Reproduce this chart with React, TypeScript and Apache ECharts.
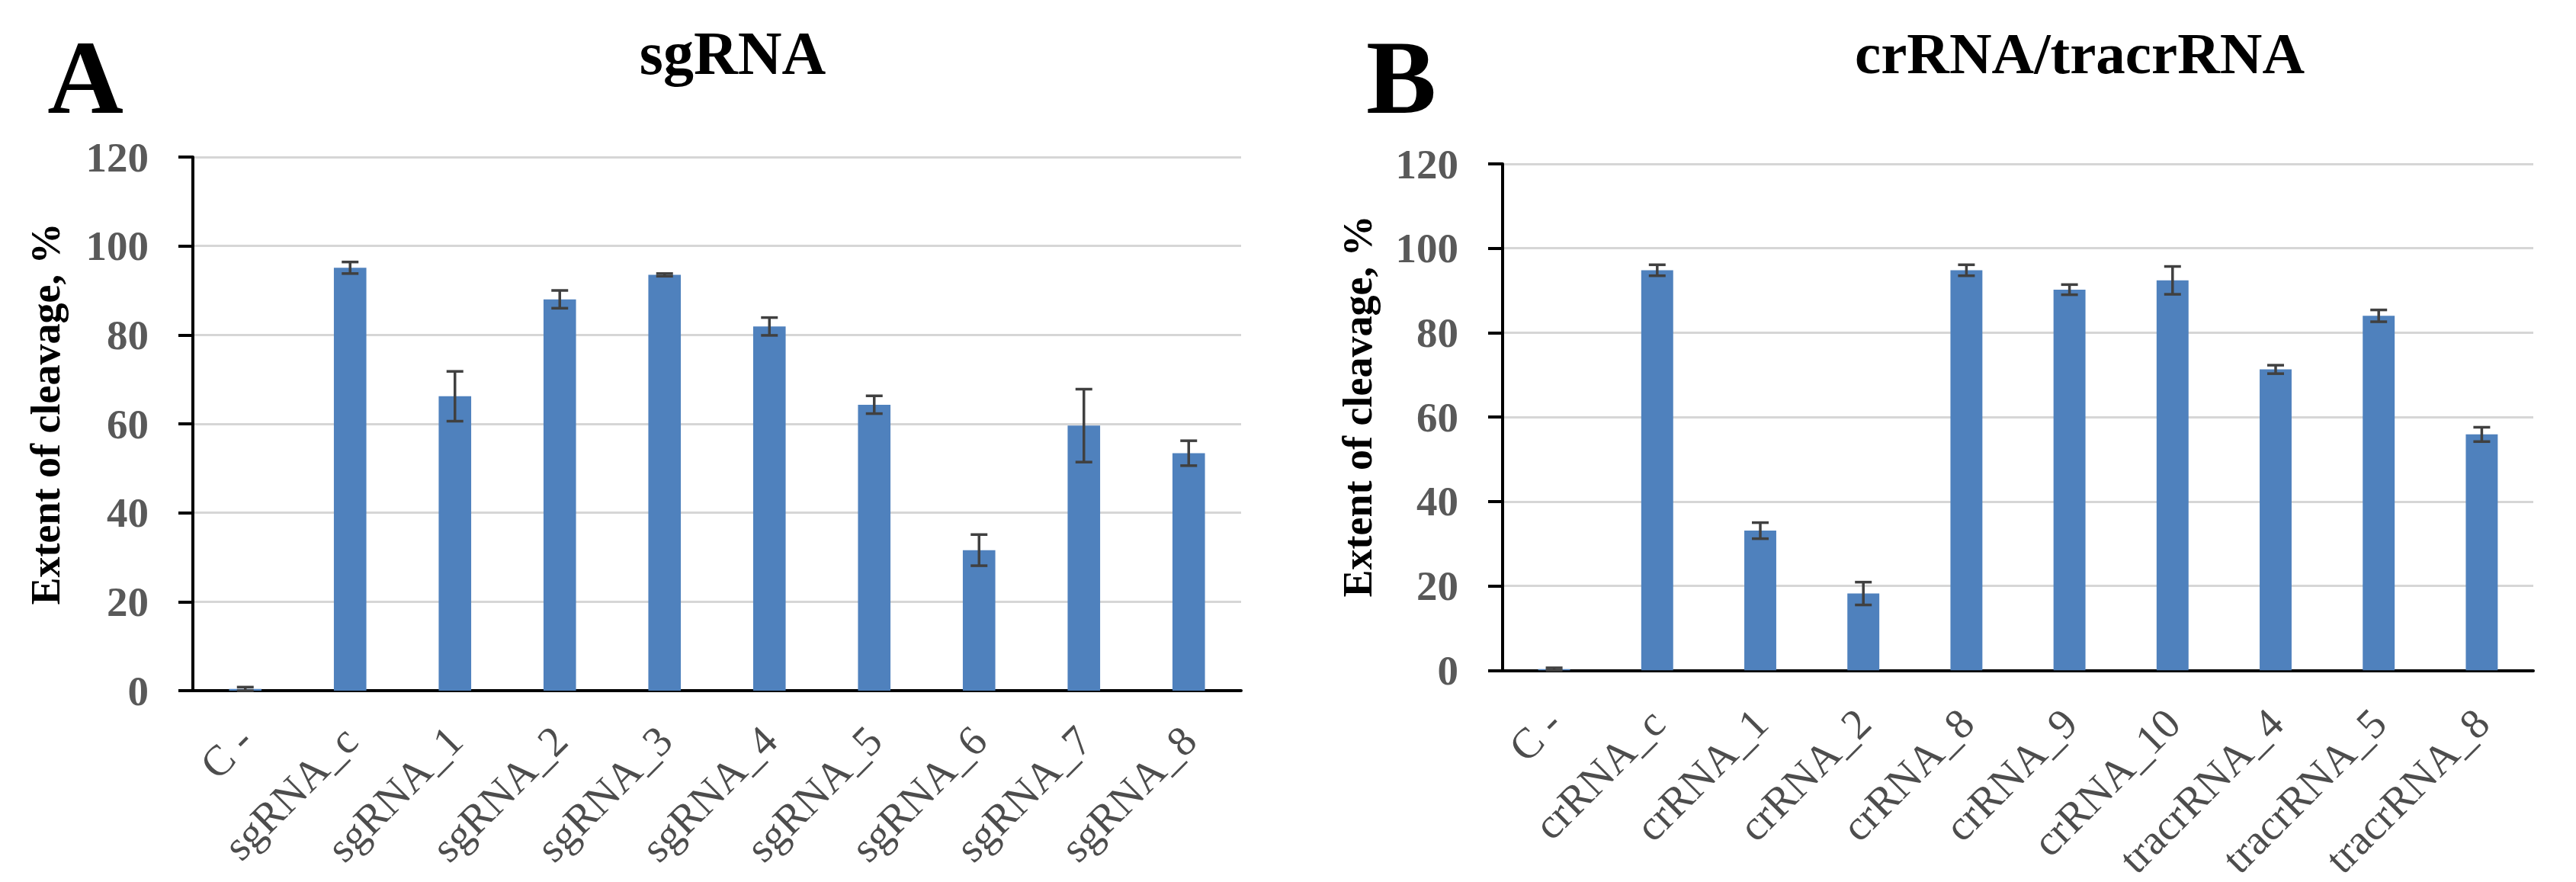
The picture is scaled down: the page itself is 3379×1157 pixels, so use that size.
import React, { useEffect, useRef } from "react";
import * as echarts from "echarts";

const catsA = ["C -", "sgRNA_c", "sgRNA_1", "sgRNA_2", "sgRNA_3", "sgRNA_4", "sgRNA_5", "sgRNA_6", "sgRNA_7", "sgRNA_8"];
const valsA = [0.4, 95.1, 66.2, 88.0, 93.5, 81.9, 64.3, 31.6, 59.6, 53.4];
const errA = [0.4, 1.3, 5.6, 2.0, 0.3, 2.0, 2.0, 3.5, 8.2, 2.8];

const catsB = ["C -", "crRNA_c", "crRNA_1", "crRNA_2", "crRNA_8", "crRNA_9", "crRNA_10", "tracrRNA_4", "tracrRNA_5", "tracrRNA_8"];
const valsB = [0.3, 94.8, 33.1, 18.2, 94.8, 90.2, 92.4, 71.3, 84.0, 55.9];
const errB = [0.3, 1.3, 1.9, 2.7, 1.3, 1.2, 3.3, 1.0, 1.4, 1.7];

const yTicks = [0, 20, 40, 60, 80, 100, 120];

const FONT = '"Liberation Serif", "DejaVu Serif", serif';
const GRAY = "#595959";

function errSeries(vals: number[], errs: number[], idx: number) {
  return {
    type: "custom",
    xAxisIndex: idx,
    yAxisIndex: idx,
    z: 5,
    encode: { x: 0, y: 1 },
    data: vals.map((v, i) => [i, v, errs[i]]),
    renderItem: (params: any, api: any) => {
      const x = api.value(0);
      const v = api.value(1);
      const e = api.value(2);
      const top = api.coord([x, v + e]);
      const bot = api.coord([x, Math.max(v - e, 0)]);
      const hw = 11;
      const style = { stroke: "#404040", lineWidth: 3.5 };
      return {
        type: "group",
        children: [
          { type: "line", shape: { x1: top[0], y1: top[1], x2: bot[0], y2: bot[1] }, style },
          { type: "line", shape: { x1: top[0] - hw, y1: top[1], x2: top[0] + hw, y2: top[1] }, style },
          { type: "line", shape: { x1: bot[0] - hw, y1: bot[1], x2: bot[0] + hw, y2: bot[1] }, style },
        ],
      };
    },
  };
}

function xAxisCfg(cats: string[], idx: number, margin: number) {
  return {
    type: "category",
    gridIndex: idx,
    data: cats,
    axisLine: { show: true, lineStyle: { color: "#000", width: 4 } },
    axisTick: { show: false },
    axisLabel: {
      interval: 0,
      rotate: 45,
      margin,
      color: "#4d4d4d",
      fontFamily: FONT,
      fontSize: 56,
    },
  };
}

function yAxisCfg(idx: number, margin: number) {
  return {
    type: "value",
    gridIndex: idx,
    min: yTicks[0],
    max: yTicks[yTicks.length - 1],
    interval: 20,
    axisLine: { show: true, lineStyle: { color: "#000", width: 4 } },
    axisTick: { show: true, length: 19, lineStyle: { color: "#000", width: 4 } },
    axisLabel: {
      margin,
      color: GRAY,
      fontFamily: FONT,
      fontSize: 55,
      fontWeight: "bold",
    },
    splitLine: { show: true, lineStyle: { color: "#d6d6d6", width: 3 } },
  };
}

function txt(text: string, x: number, y: number, size: number, rotation = 0) {
  return {
    type: "text",
    x,
    y,
    rotation,
    style: {
      text,
      x: 0,
      y: 0,
      fill: "#000",
      font: `bold ${size}px ${FONT}`,
      textAlign: "center",
      textVerticalAlign: "middle",
      align: "center",
      verticalAlign: "middle",
    },
  };
}

export default function App() {
  const ref = useRef<HTMLDivElement>(null);
  useEffect(() => {
    if (!ref.current) return;
    const chart = echarts.init(ref.current, undefined, { renderer: "svg" });
    chart.setOption({
      animation: false,
      backgroundColor: "#fff",
      grid: [
        { left: 253, top: 206, width: 1375, height: 700, containLabel: false },
        { left: 1971, top: 215, width: 1352, height: 666, containLabel: false },
      ],
      xAxis: [xAxisCfg(catsA, 0, 56), xAxisCfg(catsB, 1, 60)],
      yAxis: [yAxisCfg(0, 58), yAxisCfg(1, 58)],
      series: [
        {
          type: "bar",
          xAxisIndex: 0,
          yAxisIndex: 0,
          data: valsA,
          barWidth: "31%",
          itemStyle: { color: "#4f81bd" },
        },
        errSeries(valsA, errA, 0),
        {
          type: "bar",
          xAxisIndex: 1,
          yAxisIndex: 1,
          data: valsB,
          barWidth: "31%",
          itemStyle: { color: "#4f81bd" },
        },
        errSeries(valsB, errB, 1),
      ],
      graphic: [
        txt("A", 112, 101, 138),
        txt("sgRNA", 961, 70, 80),
        txt("B", 1838, 101, 138),
        txt("crRNA/tracrRNA", 2728, 70, 77),
        txt("Extent of cleavage, %", 60, 543, 54, Math.PI / 2),
        txt("Extent of cleavage, %", 1781, 533, 54, Math.PI / 2),
      ],
    });
    return () => chart.dispose();
  }, []);
  return (
    <div
      ref={ref}
      style={{ position: "absolute", left: 0, top: 0, width: 3379, height: 1157 }}
    />
  );
}
